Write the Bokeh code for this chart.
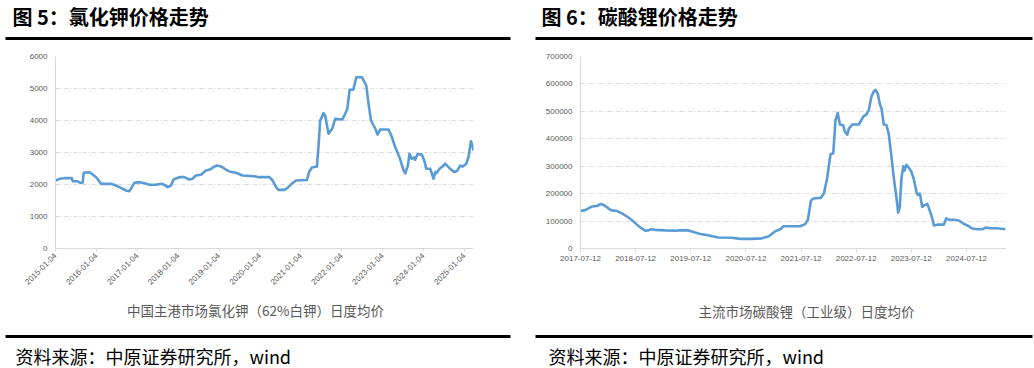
import math
import pandas as pd
from bokeh.plotting import figure
from bokeh.layouts import column, row
from bokeh.models import Range1d, FixedTicker, DatetimeTickFormatter, NumeralTickFormatter
from bokeh.core.properties import value
from bokeh.embed import file_html
from bokeh.resources import INLINE

# ---------------- data ----------------
kcl_dates = [
    "2015-01-04", "2015-02-08", "2015-03-24", "2015-05-29", "2015-06-07", "2015-07-17", "2015-08-15",
    "2015-09-04", "2015-09-13", "2015-11-03", "2015-11-18", "2016-01-02", "2016-01-31", "2016-02-15",
    "2016-05-14", "2016-06-28", "2016-08-11", "2016-09-25", "2016-10-24", "2016-11-08", "2016-12-08",
    "2017-01-23", "2017-03-08", "2017-04-22", "2017-06-21", "2017-08-04", "2017-09-03", "2017-10-02",
    "2017-11-01", "2017-11-24", "2018-01-15", "2018-02-28", "2018-04-13", "2018-05-12", "2018-06-11",
    "2018-07-26", "2018-09-09", "2018-10-17", "2018-11-15", "2018-12-16", "2019-01-22", "2019-02-26",
    "2019-04-06", "2019-06-05", "2019-08-02", "2019-11-15", "2019-12-30", "2020-03-29", "2020-04-27",
    "2020-05-28", "2020-06-17", "2020-08-10", "2020-09-08", "2020-10-14", "2020-11-22", "2021-02-28",
    "2021-03-20", "2021-04-13", "2021-05-28", "2021-06-11", "2021-06-26", "2021-07-26", "2021-08-10",
    "2021-09-08", "2021-10-11", "2021-11-07", "2022-01-10", "2022-02-06", "2022-02-24", "2022-03-16",
    "2022-04-18", "2022-05-15", "2022-07-05", "2022-08-12", "2022-09-01", "2022-09-23", "2022-10-31",
    "2022-11-21", "2022-12-15", "2023-02-27", "2023-03-29", "2023-04-27", "2023-06-05", "2023-07-11",
    "2023-07-26", "2023-08-19", "2023-09-02", "2023-09-23", "2023-10-14", "2023-10-23", "2023-11-12",
    "2023-12-21", "2024-01-12", "2024-01-30", "2024-03-06", "2024-03-21", "2024-04-04", "2024-04-19",
    "2024-04-28", "2024-05-28", "2024-07-02", "2024-07-17", "2024-08-31", "2024-10-06", "2024-10-30",
    "2024-11-28", "2024-12-22", "2025-01-21", "2025-02-10", "2025-03-04", "2025-03-18", "2025-03-27",
]
kcl_prices = [
    2125, 2177, 2198, 2198, 2104, 2100, 2052,
    2060, 2365, 2385, 2350, 2229, 2094, 2021,
    2021, 1969, 1896, 1812, 1792, 1865, 2052,
    2073, 2042, 1990, 1990, 2021, 1990, 1917,
    1969, 2156, 2229, 2229, 2156, 2177, 2281,
    2302, 2437, 2469, 2542, 2594, 2563, 2490,
    2406, 2365, 2281, 2260, 2229, 2229, 2125,
    1917, 1833, 1833, 1896, 2021, 2125, 2140,
    2400, 2530, 2560, 3200, 4000, 4230, 4150,
    3590, 3740, 4050, 4030, 4220, 4375, 4960,
    4960, 5350, 5350, 5090, 4530, 4000, 3750,
    3560, 3720, 3720, 3480, 3170, 2850, 2440,
    2350, 2590, 2960, 2800, 2850, 2770, 2940,
    2940, 2750, 2490, 2490, 2330, 2180, 2390,
    2350, 2490, 2590, 2650, 2490, 2390, 2420,
    2590, 2560, 2650, 2850, 3350, 3220, 3060,
]
kcl_ticks = ["2015-01-04", "2016-01-04", "2017-01-04", "2018-01-04", "2019-01-04", "2020-01-04",
             "2021-01-04", "2022-01-04", "2023-01-04", "2024-01-04", "2025-01-04"]
kcl_yticks = [0, 1000, 2000, 3000, 4000, 5000, 6000]

li_dates = [
    "2017-07-12", "2017-08-12", "2017-09-25", "2017-10-28", "2017-11-26", "2017-12-23", "2018-01-29",
    "2018-03-09", "2018-04-12", "2018-05-26", "2018-06-28", "2018-08-11", "2018-09-14", "2018-10-05",
    "2018-10-23", "2018-11-19", "2019-01-24", "2019-03-31", "2019-05-14", "2019-06-27", "2019-08-11",
    "2019-09-13", "2019-10-27", "2019-12-10", "2020-01-12", "2020-04-09", "2020-06-04", "2020-08-20",
    "2020-10-25", "2020-12-08", "2021-01-22", "2021-02-24", "2021-03-18", "2021-07-06", "2021-08-08",
    "2021-08-26", "2021-09-15", "2021-10-02", "2021-10-31", "2021-11-18", "2021-12-10", "2022-01-01",
    "2022-01-23", "2022-02-10", "2022-02-25", "2022-03-12", "2022-03-26", "2022-04-17", "2022-04-28",
    "2022-05-14", "2022-05-24", "2022-06-16", "2022-07-29", "2022-08-10", "2022-08-28", "2022-09-18",
    "2022-10-04", "2022-10-20", "2022-11-06", "2022-11-17", "2022-12-02", "2022-12-16", "2022-12-27",
    "2023-01-11", "2023-01-29", "2023-02-13", "2023-03-01", "2023-03-18", "2023-04-05", "2023-04-16",
    "2023-04-27", "2023-05-08", "2023-05-20", "2023-05-28", "2023-06-10", "2023-06-26", "2023-07-12",
    "2023-07-29", "2023-08-16", "2023-08-24", "2023-09-07", "2023-09-22", "2023-10-08", "2023-10-26",
    "2023-11-12", "2023-11-28", "2023-12-09", "2023-12-31", "2024-02-13", "2024-02-29", "2024-03-17",
    "2024-04-19", "2024-05-22", "2024-06-20", "2024-07-27", "2024-08-19", "2024-09-21", "2024-10-24",
    "2024-11-15", "2024-12-18", "2025-01-31", "2025-03-27",
]
li_prices = [
    137000, 140000, 153000, 155000, 163000, 155000, 140000,
    137000, 128000, 113000, 98000, 77000, 65000, 66000,
    70000, 68000, 66000, 65000, 67000, 66000, 58000,
    53000, 49000, 44000, 40000, 39000, 35000, 35000,
    37000, 44000, 63000, 70000, 81000, 81000, 89000,
    105000, 174000, 182000, 184000, 184000, 200000, 258000,
    344000, 347000, 468000, 494000, 452000, 449000, 426000,
    415000, 436000, 452000, 452000, 463000, 481000, 489000,
    505000, 552000, 573000, 578000, 565000, 526000, 510000,
    452000, 449000, 417000, 342000, 258000, 184000, 131000,
    152000, 258000, 300000, 284000, 305000, 294000, 281000,
    252000, 205000, 195000, 200000, 152000, 158000, 163000,
    137000, 110000, 84000, 87000, 87000, 110000, 105000,
    105000, 102000, 91000, 81000, 73000, 70000, 70000,
    76000, 74000, 74000, 70000,
]
li_ticks = ["2017-07-12", "2018-07-12", "2019-07-12", "2020-07-12",
            "2021-07-12", "2022-07-12", "2023-07-12", "2024-07-12"]
li_yticks = [0, 100000, 200000, 300000, 400000, 500000, 600000, 700000]

titles = ["图 5：氯化钾价格走势", "图 6：碳酸锂价格走势"]
axis_titles = ["中国主港市场氯化钾（62%白钾）日度均价", "主流市场碳酸锂（工业级）日度均价"]
source_text = "资料来源：中原证券研究所，wind"

# ---------------- styles ----------------
CJK = "Noto Sans CJK SC"
NUM = "Liberation Sans"
LINE_COLOR = "#5B9BD5"
AX_COLOR = "#D9D9D9"
LABEL_COLOR = "#595959"
W_TOTAL = 1034


def ms(s):
    return pd.Timestamp(s).value / 1e6


def deco_fig(height, top):
    f = figure(width=W_TOTAL, height=height, x_range=Range1d(0, W_TOTAL),
               y_range=Range1d(top + height, top), output_backend="svg",
               toolbar_location=None, x_axis_location=None, y_axis_location=None,
               min_border=0, outline_line_color=None)
    f.grid.visible = False
    f.background_fill_color = "white"
    f.border_fill_color = "white"
    return f


def chart(dates, prices, xticks, yticks, width, height, borders, rotate, x_end):
    left, right, top, bottom = borders
    p = figure(width=width, height=height, x_axis_type="datetime",
               x_range=Range1d(ms(dates[0]), ms(x_end)),
               y_range=Range1d(yticks[0], yticks[-1]),
               output_backend="svg", toolbar_location=None,
               min_border_left=left, min_border_right=right,
               min_border_top=top, min_border_bottom=bottom,
               outline_line_color=None)
    p.background_fill_color = "white"
    p.border_fill_color = "white"
    p.line(x=pd.to_datetime(dates), y=prices, line_color=LINE_COLOR, line_width=2.6,
           line_join="round")

    p.xaxis.ticker = FixedTicker(ticks=[ms(t) for t in xticks], minor_ticks=[])
    fmt = "%Y-%m-%d"
    p.xaxis.formatter = DatetimeTickFormatter(
        microseconds=fmt, milliseconds=fmt, seconds=fmt, minsec=fmt, minutes=fmt,
        hourmin=fmt, hours=fmt, days=fmt, months=fmt, years=fmt)
    p.yaxis.ticker = FixedTicker(ticks=yticks, minor_ticks=[])
    p.yaxis.formatter = NumeralTickFormatter(format="0")

    for ax in (p.xaxis, p.yaxis):
        ax.axis_line_color = AX_COLOR
        ax.axis_line_width = 1
        ax.minor_tick_line_color = None
        ax.major_label_text_font = NUM
        ax.major_label_text_font_size = "8px"
        ax.major_label_text_color = LABEL_COLOR

    p.xaxis.major_tick_line_color = AX_COLOR
    p.xaxis.major_tick_in = 0
    p.xaxis.major_tick_out = 3 if rotate else 4
    p.xaxis.major_label_standoff = 3
    if rotate:
        p.xaxis.major_label_orientation = math.pi / 4

    p.yaxis.major_tick_line_color = None
    p.yaxis.major_tick_in = 0
    p.yaxis.major_tick_out = 0
    p.yaxis.major_label_standoff = 8

    p.xgrid.grid_line_color = None
    p.ygrid.grid_line_color = AX_COLOR
    p.ygrid.grid_line_dash = "4 2 1 2"
    p.ygrid.grid_line_width = 1
    return p


# ---------------- header (page y 0..44) ----------------
head = deco_fig(44, 0)
head.text(x=[12, 541], y=[16, 16], text=titles, text_font=value(CJK),
          text_font_style="bold", text_font_size="20px", text_color="#000000",
          text_align="left", text_baseline="middle")
head.quad(left=[5, 535], right=[510, 1032], top=[36.5, 36.5], bottom=[39.5, 39.5],
          fill_color="#000000", line_color=None)

# ---------------- charts (page y 44..296) ----------------
left_chart = chart(kcl_dates, kcl_prices, kcl_ticks, kcl_yticks,
                   521, 252, (55, 48, 12, 48), True, "2025-03-27")
right_chart = chart(li_dates, li_prices, li_ticks, li_yticks,
                    513, 252, (59, 29, 9, 21), False, "2025-03-27")

# ---------------- axis titles (page y 296..326) ----------------
atitle = deco_fig(30, 296)
atitle.text(x=[255, 806], y=[309, 310], text=axis_titles, text_font=value(CJK),
            text_font_size="13.5px", text_color=LABEL_COLOR,
            text_align="center", text_baseline="middle")

# ---------------- footer (page y 326..368) ----------------
foot = deco_fig(42, 326)
foot.quad(left=[5, 535], right=[510, 1032], top=[334.5, 334.5], bottom=[337.5, 337.5],
          fill_color="#000000", line_color=None)
foot.text(x=[15, 548], y=[355, 355], text=[source_text, source_text], text_font=value(CJK),
          text_font_size="18px", text_color="#000000",
          text_align="left", text_baseline="middle")

layout = column(head, row(left_chart, right_chart), atitle, foot)

open("out.html", "w").write(file_html(layout, INLINE))
